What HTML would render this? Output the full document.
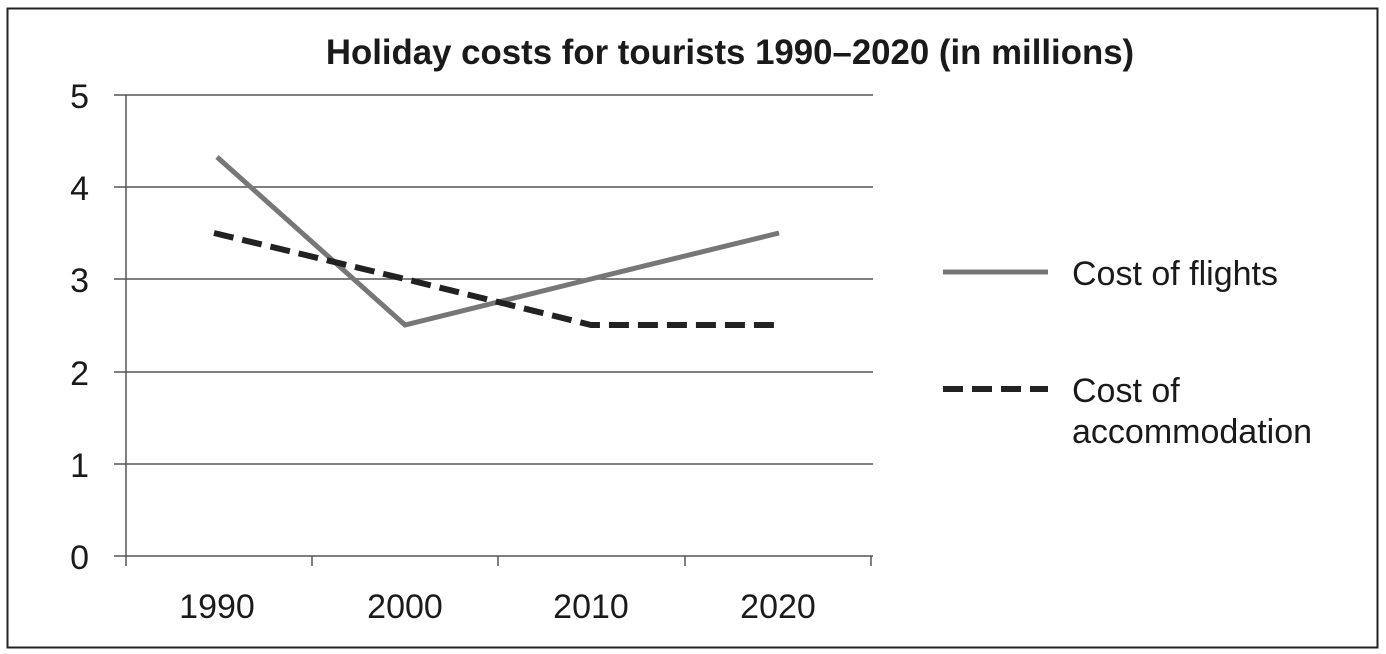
<!DOCTYPE html>
<html><head><meta charset="utf-8"><style>
html,body{margin:0;padding:0;background:#fff;}
svg{display:block;}
text{font-family:"Liberation Sans",Arial,sans-serif;fill:#1a1a1a;}
</style></head><body>
<svg width="1386" height="654" viewBox="0 0 1386 654">
<rect x="0" y="0" width="1386" height="654" fill="#fff"/>
<rect x="7.5" y="8.5" width="1370" height="639" fill="none" stroke="#222" stroke-width="2"/>
<text x="730" y="64" text-anchor="middle" font-size="34.8" font-weight="bold">Holiday costs for tourists 1990–2020 (in millions)</text>
<g stroke="#555" stroke-width="1.5">
<line x1="114" y1="95" x2="873" y2="95"/>
<line x1="114" y1="187" x2="873" y2="187"/>
<line x1="114" y1="279" x2="873" y2="279"/>
<line x1="114" y1="372" x2="873" y2="372"/>
<line x1="114" y1="464" x2="873" y2="464"/>
<line x1="114" y1="556" x2="873" y2="556"/>
<line x1="126" y1="95" x2="126" y2="566"/>
<line x1="312" y1="556" x2="312" y2="566"/>
<line x1="498" y1="556" x2="498" y2="566"/>
<line x1="685" y1="556" x2="685" y2="566"/>
<line x1="871" y1="556" x2="871" y2="566"/>
</g>
<g font-size="34" text-anchor="end">
<text x="89" y="108">5</text><text x="89" y="200">4</text><text x="89" y="292">3</text>
<text x="89" y="385">2</text><text x="89" y="477">1</text><text x="89" y="569">0</text>
</g>
<g font-size="34" text-anchor="middle">
<text x="217" y="618">1990</text><text x="405" y="618">2000</text>
<text x="591" y="618">2010</text><text x="778" y="618">2020</text>
</g>
<polyline points="217,157 405,325 591,279 779,233" fill="none" stroke="#777" stroke-width="5"/>
<polyline points="214,233 405,279 591,325 779,325" fill="none" stroke="#222" stroke-width="6" stroke-dasharray="20,9"/>
<line x1="943" y1="272" x2="1048" y2="272" stroke="#777" stroke-width="5"/>
<line x1="943" y1="389" x2="1048" y2="389" stroke="#222" stroke-width="6" stroke-dasharray="20,9"/>
<g font-size="34">
<text x="1072" y="285">Cost of flights</text>
<text x="1072" y="402">Cost of</text>
<text x="1072" y="443">accommodation</text>
</g>
</svg>
</body></html>
